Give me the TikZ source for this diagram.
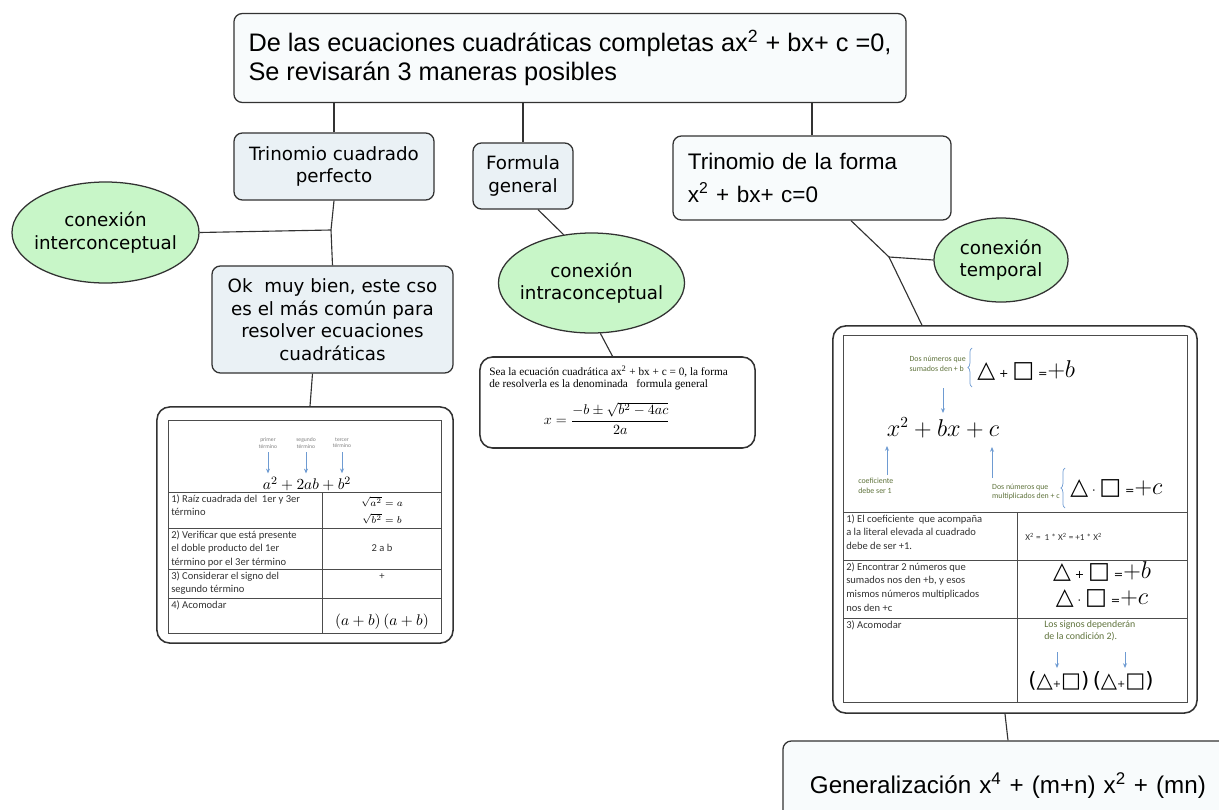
\documentclass[tikz,border=0pt]{standalone}
\usepackage{fontspec}
\usetikzlibrary{arrows.meta,positioning,shapes.geometric,decorations.pathreplacing}
\newfontfamily\arialf{Liberation Sans}
\newfontfamily\verdf{DejaVu Sans}
\newfontfamily\calf{Carlito}
\newfontfamily\timesf{Liberation Serif}
\definecolor{boxfill}{RGB}{234,241,245}
\definecolor{whitefill}{RGB}{248,251,252}
\definecolor{linkgreen}{RGB}{200,246,200}
\definecolor{edgegray}{RGB}{50,50,50}
\definecolor{tipblue}{RGB}{110,155,210}
\definecolor{notecol}{RGB}{95,115,60}
% triangle and square with a small sign between them
\newcommand{\tripair}[2]{{\verdf\fontsize{16.5}{17}\selectfont △\,{\fontsize{8}{8}\selectfont#1}\,□\,{\fontsize{8}{8}\selectfont=}}{\fontsize{16}{17}\selectfont$+#2$}}
\newcommand{\parpair}{{\verdf\fontsize{15}{16}\selectfont (△{\fontsize{7}{7}\selectfont+}□)\,(△{\fontsize{7}{7}\selectfont+}□)}}

\begin{document}
\begin{tikzpicture}[x=0.025cm,y=-0.025cm,
 concept/.style={draw=edgegray,line width=0.9pt,rounded corners=6pt,fill=boxfill,align=center,inner sep=0pt,font={\verdf\fontsize{13}{16}\selectfont}},
 headbox/.style={concept,fill=whitefill,align=left,font={\arialf\fontsize{16}{23}\selectfont}},
 linkword/.style={ellipse,draw=edgegray,line width=0.9pt,fill=linkgreen,align=center,inner xsep=-8pt,inner ysep=0pt,font={\verdf\fontsize{13}{16}\selectfont}},
 panel/.style={draw=edgegray,line width=1.1pt,rounded corners=9pt,fill=white,inner sep=0pt},
 link/.style={draw=edgegray,line width=0.8pt},
 tabline/.style={draw=black!70,line width=0.6pt},
 note/.style={font={\calf\fontsize{7.5}{9.8}\selectfont},text=black!80,align=left,inner sep=0pt,anchor=north west},
 tag/.style={font={\calf\fontsize{5.6}{6.8}\selectfont},text=notecol,align=left,inner sep=0pt},
 pointer/.style={-{Stealth[length=1.2mm,width=1mm]},draw=tipblue,line width=0.5pt}]
\clip (0,0) rectangle (1219,810);
\fill[white] (0,0) rectangle (1219,810);

% concepts
\node[headbox,font={\arialf\fontsize{18}{21}\selectfont},minimum width=16.8cm,minimum height=2.225cm] (top) at (570,58) {De las ecuaciones cuadráticas completas ax\textsuperscript{2} + bx+ c =0,\\Se revisarán 3 maneras posibles};
\node[concept,minimum width=5cm,minimum height=1.675cm] (tcp) at (334,166.5) {Trinomio cuadrado\\perfecto};
\node[concept,minimum width=2.5cm,minimum height=1.65cm] (fg) at (523,176) {Formula\\general};
\node[headbox,minimum height=2.1cm,text width=6.2cm,inner xsep=0.375cm] (tdf) at (812,178) {Trinomio de la forma\\x\textsuperscript{2} + bx+ c=0};
\node[linkword,minimum width=4.675cm,minimum height=2.525cm] (inter) at (105.5,232.5) {conexión\\interconceptual};
\node[concept,minimum width=6.025cm,minimum height=2.675cm] (ok) at (332.5,319.5) {Ok\ \ muy bien, este cso\\es el más común para\\resolver ecuaciones\\cuadráticas};
\node[linkword,minimum width=4.65cm,minimum height=2.5cm] (intra) at (591.5,283) {conexión\\intraconceptual};
\node[linkword,minimum width=3.35cm,minimum height=2.1cm] (temp) at (1001,260) {conexión\\temporal};
\node[panel,minimum width=6.875cm,minimum height=2.275cm] (fbox) at (617.5,402.5) {};
\node[panel,minimum width=7.4cm,minimum height=5.9cm] (tab1) at (305,525) {};
\node[panel,minimum width=9.1cm,minimum height=9.675cm] (tab2) at (1015,519.5) {};
\node[headbox,font={\arialf\fontsize{17.2}{21}\selectfont},minimum height=2.225cm,text width=10.5cm,inner xsep=0.675cm] (gen) at (1020,785.5) {Generalización x\textsuperscript{4} + (m+n) x\textsuperscript{2} + (mn)};

% links
\coordinate (j1) at (331,230);
\coordinate (j2) at (889,257);
\draw[link] (tcp.north) -- (tcp.north |- top.south);
\draw[link] (fg.north) -- (fg.north |- top.south);
\draw[link] (tdf.north) -- (tdf.north |- top.south);
\draw[link] (tcp.south) -- (j1) -- (ok.north);
\draw[link] (inter.east) -- (j1);
\draw[link] ([xshift=-0.5cm]ok.south) -- ([xshift=0.125cm]tab1.north);
\draw[link] ([xshift=0.375cm]fg.south) -- (intra.120);
\draw[link] (intra.280) -- ([xshift=-0.125cm]fbox.north);
\draw[link] ([xshift=0.975cm]tdf.south) -- (j2) -- ([xshift=-2.325cm]tab2.north);
\draw[link] (j2) -- (temp.west);
\draw[link] ([xshift=-0.25cm]tab2.south) -- ([xshift=-0.3cm]gen.north);

% general formula
\node[anchor=north west,inner sep=0pt,align=left,font={\timesf\fontsize{8}{8.5}\selectfont}] (ftext) at (489,366) {Sea la ecuación cuadrática ax\textsuperscript{2} + bx + c = 0, la forma\\de resolverla es la denominada \ \ formula general};
\node[inner sep=0pt,font=\fontsize{10}{12}\selectfont] (fquad) at (607,418) {$\displaystyle x=\frac{-b\pm\sqrt{b^2-4ac}}{2a}$};

% perfect square table
\draw[tabline] (168,420) rectangle (441,633);
\foreach \yy in {492,528,569,598} \draw[tabline] (168,\yy) -- (441,\yy);
\draw[tabline] (322,492) -- (322,633);
\foreach \xx/\lab [count=\i] in {268/primer,306/segundo,342/tercer} {
  \node[tag,text=black!50,align=center,font={\calf\fontsize{4}{4.5}\selectfont}] (lab\i) at (\xx,443) {\lab\\término};
  \draw[pointer] ([yshift=-0.1cm]lab\i.south) -- ++(0,21);
}
\node[inner sep=0pt,font=\fontsize{11}{13}\selectfont] (sq) at (307,484) {$a^2+2ab+b^2$};
\node[note] (r1) at (171,494) {1) Raíz cuadrada del\ \ 1er y 3er\\término};
\node[inner sep=0pt,font=\fontsize{7}{8}\selectfont] (r1a) at (382,502) {$\sqrt{a^2}=a$};
\node[inner sep=0pt,font=\fontsize{7}{8}\selectfont] (r1b) at (382,519) {$\sqrt{b^2}=b$};
\node[note] (r2) at (171,530) {2) Verificar que está presente\\el doble producto del 1er\\término por el 3er término};
\node[inner sep=0pt,font={\calf\fontsize{7.5}{9}\selectfont},text=black!80] (r2a) at (382,548) {2 a b};
\node[note] (r3) at (171,571) {3) Considerar el signo del\\segundo término};
\node[inner sep=0pt,font={\calf\fontsize{7.5}{9}\selectfont},text=black!80] (r3a) at (382,577) {+};
\node[note] (r4) at (171,600) {4) Acomodar};
\node[inner sep=0pt,font=\fontsize{11}{13}\selectfont] (r4a) at (382,622) {$(a+b)\,(a+b)$};

% trinomial table
\draw[tabline] (843,335) rectangle (1187,702);
\foreach \yy in {512,560,618} \draw[tabline] (843,\yy) -- (1187,\yy);
\draw[tabline] (1017,512) -- (1017,702);
\node[tag,anchor=east] (dsum) at (966,364) {Dos números que\\sumados den + b};
\draw[tipblue,line width=0.5pt,decorate,decoration={brace,amplitude=3pt}] (972,387) -- (972,348);
\node[anchor=west,inner sep=0pt] (esum) at (977,370) {\tripair{+}{b}};
\draw[pointer] (943,388) -- (943,413);
\node[inner sep=0pt,font=\fontsize{16}{18}\selectfont] (xq) at (943,428) {$x^2+bx+c$};
\draw[pointer] (887,475) -- (887,446);
\node[tag,anchor=north west] (coef) at (858,478) {coeficiente\\debe ser 1};
\draw[pointer] (992,478) -- (992,447);
\node[tag,anchor=east] (dmul) at (1060,492) {Dos números que\\multiplicados den + c};
\draw[tipblue,line width=0.5pt,decorate,decoration={brace,amplitude=3pt}] (1065,508) -- (1065,468);
\node[anchor=west,inner sep=0pt] (emul) at (1070,488) {\tripair{·}{c}};
\node[note] (s1) at (846,514) {1) El coeficiente\ \ que acompaña\\a la literal elevada al cuadrado\\debe de ser +1.};
\node[anchor=west,inner sep=0pt,font={\calf\fontsize{6.5}{8}\selectfont},text=black!80] (s1a) at (1025,537) {X\textsuperscript{2} =\ \ 1 * X\textsuperscript{2} = +1 * X\textsuperscript{2}};
\node[note] (s2) at (846,562) {2) Encontrar 2 números que\\sumados nos den +b, y esos\\mismos números multiplicados\\nos den +c};
\node[inner sep=0pt] (s2a) at (1102,571) {\tripair{+}{b}};
\node[inner sep=0pt] (s2b) at (1102,598) {\tripair{·}{c}};
\node[note] (s3) at (846,620) {3) Acomodar};
\node[tag,anchor=north west,font={\calf\fontsize{7}{9}\selectfont}] (s3a) at (1044,620) {Los signos dependerán\\de la condición 2).};
\draw[pointer] (1057,652) -- (1057,668);
\draw[pointer] (1125,652) -- (1125,668);
\node[inner sep=0pt] (s3b) at (1091,681) {\parpair};
\end{tikzpicture}
\end{document}
